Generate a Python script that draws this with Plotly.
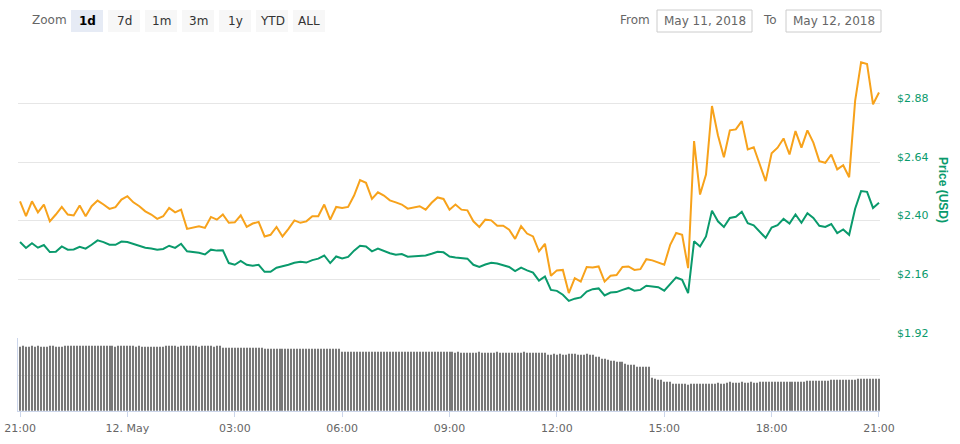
import pandas as pd
import plotly.graph_objects as go

# ---------------- data ----------------
START = "2018-05-11 21:00"

price_usd = [
    2.312, 2.288, 2.307, 2.289, 2.300, 2.271, 2.272, 2.294, 2.281, 2.282,
    2.293, 2.285, 2.301, 2.319, 2.312, 2.301, 2.301, 2.314, 2.312, 2.304,
    2.296, 2.289, 2.286, 2.281, 2.284, 2.297, 2.288, 2.305, 2.274, 2.272,
    2.268, 2.261, 2.281, 2.277, 2.278, 2.226, 2.219,
    2.235, 2.219, 2.215, 2.219, 2.190, 2.190, 2.207, 2.212, 2.219, 2.227,
    2.231, 2.228, 2.238, 2.244, 2.257, 2.226, 2.253, 2.245, 2.251, 2.277,
    2.297, 2.294, 2.274, 2.285, 2.274, 2.266, 2.260, 2.263, 2.252, 2.253,
    2.256, 2.257, 2.264, 2.272, 2.270, 2.253,
    2.249, 2.247, 2.244, 2.219, 2.210, 2.220, 2.227, 2.224, 2.218, 2.210,
    2.193, 2.207, 2.196, 2.187, 2.154, 2.171, 2.116, 2.112, 2.096, 2.071,
    2.080, 2.085, 2.109, 2.119, 2.122, 2.093, 2.105, 2.107, 2.116, 2.124,
    2.113, 2.116, 2.133, 2.130, 2.127, 2.113,
    2.140, 2.167, 2.157, 2.103, 2.315, 2.294, 2.335, 2.441, 2.397, 2.374,
    2.411, 2.416, 2.436, 2.389, 2.381, 2.356, 2.329, 2.372, 2.381, 2.407,
    2.388, 2.425, 2.391, 2.430, 2.411, 2.379, 2.374, 2.386, 2.349, 2.364,
    2.342, 2.449, 2.521, 2.518, 2.452, 2.473,
]

# second (orange) series, read against the same price grid
price_orange = [
    2.479, 2.418, 2.479, 2.434, 2.466, 2.397, 2.425, 2.456, 2.425, 2.421,
    2.462, 2.418, 2.459, 2.482, 2.466, 2.448, 2.455, 2.486, 2.500, 2.475,
    2.459, 2.438, 2.425, 2.407, 2.418, 2.452, 2.434, 2.445, 2.366, 2.370,
    2.377, 2.370, 2.415, 2.404, 2.425, 2.391, 2.393,
    2.422, 2.374, 2.388, 2.395, 2.335, 2.342, 2.374, 2.335, 2.366, 2.401,
    2.391, 2.397, 2.418, 2.418, 2.466, 2.404, 2.456, 2.452, 2.456, 2.503,
    2.566, 2.555, 2.489, 2.516, 2.503, 2.483, 2.475, 2.466, 2.449, 2.455,
    2.459, 2.445, 2.473, 2.495, 2.489, 2.445,
    2.466, 2.445, 2.442, 2.397, 2.374, 2.404, 2.401, 2.379, 2.379, 2.363,
    2.325, 2.377, 2.347, 2.335, 2.274, 2.305, 2.174, 2.196, 2.198, 2.103,
    2.164, 2.150, 2.210, 2.208, 2.212, 2.150, 2.174, 2.177, 2.210, 2.212,
    2.198, 2.201, 2.242, 2.237, 2.228, 2.219,
    2.301, 2.349, 2.342, 2.205, 2.726, 2.507, 2.589, 2.870, 2.750, 2.660,
    2.770, 2.774, 2.808, 2.692, 2.701, 2.633, 2.562, 2.676, 2.699, 2.737,
    2.671, 2.767, 2.699, 2.770, 2.720, 2.644, 2.637, 2.671, 2.610, 2.627,
    2.578, 2.891, 3.049, 3.042, 2.877, 2.925,
]

# volume (millions, 5-minute bars)
volume = [
    90.0, 90.3, 89.6, 89.9, 90.1, 89.8, 90.2, 89.9, 90.0, 89.7, 90.4, 90.1, 89.8, 90.0, 89.6, 90.2,
    90.8, 90.6, 91.0, 90.7, 90.9, 91.2, 90.8, 90.6, 90.9, 90.7,
    90.3, 90.2, 90.5, 90.1, 90.3, 90.4, 90.0, 90.2, 90.3, 90.1, 90.4, 90.2, 90.3, 90.0, 90.2,
    89.9, 89.7, 90.0, 89.8, 89.9, 89.6, 89.9, 89.8,
    90.3, 90.1, 90.4, 90.2, 90.0, 90.3, 90.2, 90.4, 90.1, 90.3, 90.2, 90.0, 90.3, 90.1, 90.2, 90.4, 90.0, 90.2, 90.1,
    87.7, 87.9, 87.5, 87.8, 87.6, 87.9, 87.7, 87.4, 87.8, 87.6, 87.7, 87.5, 87.8, 87.6,
    86.3, 86.0, 86.5, 86.2, 86.4, 85.9, 86.3, 86.1, 86.5, 86.2, 86.0, 86.4, 86.3, 86.1, 86.5, 86.2,
    86.4, 86.0, 86.3, 86.2, 86.5, 86.1, 86.3, 86.4, 86.0, 86.2,
    82.3, 81.8, 82.1, 82.0, 81.7, 82.2, 82.0, 81.9, 82.3, 82.1, 81.8, 82.0, 82.2, 81.9, 82.1, 82.0,
    81.8, 82.2, 82.1, 81.9, 82.0, 82.3, 81.8, 82.1, 82.0, 81.9, 82.2, 82.0, 81.8, 82.1, 82.3, 82.0,
    81.9, 82.1, 82.0, 82.2, 81.8, 82.0,
    81.5, 81.7, 81.4, 81.6, 81.5, 81.3, 81.6, 81.5, 81.7, 81.4, 81.5, 81.6, 81.3, 81.5, 81.7, 81.5,
    81.4, 81.6, 81.5, 81.3, 81.6, 81.5, 81.4, 81.7, 81.5, 81.6, 81.4, 81.5, 81.3, 81.6, 81.5,
    78.8, 78.6, 79.0, 78.7, 78.9, 78.8, 78.5, 78.9, 79.2, 79.0, 78.7, 78.8, 78.6, 78.9, 78.7, 78.8,
    76.0, 75.5, 73.2, 72.8, 70.8, 70.5, 70.2, 68.5, 68.2, 68.0, 65.3, 65.0, 64.8, 64.6,
    61.5, 61.3, 61.2, 61.4, 61.0,
    46.8, 44.5, 44.0, 43.8, 40.7, 40.5, 40.7,
    37.5, 37.3, 37.6, 37.4, 37.5, 37.2, 37.5, 37.6, 37.3, 37.5,
    38.5, 38.3, 38.6, 38.4, 38.5, 38.7, 38.4, 38.5,
    39.9, 40.1, 39.8, 40.0, 39.9, 40.2, 39.8, 39.9, 40.1, 39.9, 40.0,
    40.3, 40.1, 40.4, 40.2, 40.3, 40.5, 40.2, 40.3, 40.1, 40.4, 40.3, 40.2, 40.5, 40.3, 40.1, 40.3,
    41.7, 41.9, 41.6, 41.8, 41.7, 41.5, 41.8, 41.7,
    43.1, 43.3, 43.0, 43.2, 43.1, 43.4, 43.0, 43.2, 43.1,
    44.4, 44.6, 44.3, 44.5, 44.4, 44.2, 44.5, 44.4,
]

x_tick_times = ["2018-05-11 21:00", "2018-05-12 00:00", "2018-05-12 03:00",
                "2018-05-12 06:00", "2018-05-12 09:00", "2018-05-12 12:00",
                "2018-05-12 15:00", "2018-05-12 18:00", "2018-05-12 21:00"]
x_tick_labels = ["21:00", "12. May", "03:00", "06:00", "09:00",
                 "12:00", "15:00", "18:00", "21:00"]
y_tick_values = [1.92, 2.16, 2.40, 2.64, 2.88, 3.12]
y_tick_labels = ["$1.92", "$2.16", "$2.40", "$2.64", "$2.88", ""]

zoom_buttons = ["1d", "7d", "1m", "3m", "1y", "YTD", "ALL"]
date_from = "May 11, 2018"
date_to = "May 12, 2018"

# ---------------- figure ----------------
price_times = pd.date_range(START, periods=len(price_usd), freq="10min")
vol_times = pd.date_range(START, periods=len(volume), freq="5min")

W, H = 960, 444
L, R, T, B = 18, 80, 45, 33
PW, PH = W - L - R, H - T - B


def px(x):
    return (x - L) / PW


def py(y):
    return (H - B - y) / PH


FONT = "DejaVu Sans"
GREEN = "#0a9a6c"
ORANGE = "#f7a21b"
BAR = "#787878"
split = py(337.7)

fig = go.Figure()
fig.add_trace(go.Bar(x=vol_times, y=volume, yaxis="y2",
                     marker=dict(color=BAR, line=dict(width=0.02, color=BAR)),
                     width=201200, hoverinfo="skip"))
fig.add_trace(go.Scatter(x=price_times, y=price_orange, mode="lines",
                         line=dict(color=ORANGE, width=2)))
fig.add_trace(go.Scatter(x=price_times, y=price_usd, mode="lines",
                         line=dict(color=GREEN, width=2)))

t0 = pd.Timestamp(START)
fig.update_layout(
    width=W, height=H, autosize=False,
    margin=dict(l=L, r=R, t=T, b=B, pad=0, autoexpand=False),
    paper_bgcolor="white", plot_bgcolor="white",
    showlegend=False, bargap=0,
    font=dict(family=FONT, size=11, color="#666666"),
    xaxis=dict(
        type="date", automargin=False,
        range=[t0 - pd.Timedelta(minutes=3.4), t0 + pd.Timedelta(minutes=1441.7)],
        tickvals=x_tick_times, ticktext=x_tick_labels,
        ticks="outside", ticklen=5, tickcolor="#ccd6eb",
        showline=True, linecolor="#ccd6eb", linewidth=1,
        showgrid=False, zeroline=False, anchor="y2",
        ticklabelstandoff=2,
        tickfont=dict(family=FONT, size=11, color="#666666"),
    ),
    yaxis=dict(
        domain=[split, 1], range=[1.92, 3.12], side="right", anchor="x",
        automargin=False,
        tickvals=y_tick_values, ticktext=y_tick_labels,
        showgrid=True, gridcolor="#e6e6e6", gridwidth=1,
        zeroline=False, showline=False, ticks="",
        tickfont=dict(family=FONT, size=11, color=GREEN),
        ticklabelstandoff=16, ticklabelshift=-5,
    ),
    yaxis2=dict(
        domain=[0, split], range=[0, 101.8], side="left", anchor="x",
        automargin=False,
        tickvals=[50], showticklabels=False,
        showgrid=True, gridcolor="#e6e6e6", gridwidth=1,
        zeroline=False, showline=True, linecolor="#ccd6eb", ticks="",
    ),
)

shapes = []
annotations = []

# Price (USD) axis title
annotations.append(dict(x=px(943), y=py(190), xref="paper", yref="paper",
                        text="<b>Price (USD)</b>", textangle=90, showarrow=False,
                        xanchor="center", yanchor="middle",
                        font=dict(family="Liberation Sans", size=12, color=GREEN)))

# range selector
annotations.append(dict(x=px(49), y=py(20), xref="paper", yref="paper", text="Zoom",
                        showarrow=False, xanchor="center", yanchor="middle",
                        font=dict(family=FONT, size=12, color="#666666")))
btn_x = [(71, 103), (108, 140), (145, 177), (182, 214), (219, 251), (256, 288), (293, 325)]
for i, (label, (x0, x1)) in enumerate(zip(zoom_buttons, btn_x)):
    sel = i == 0
    shapes.append(dict(type="rect", xref="paper", yref="paper",
                       x0=px(x0), x1=px(x1), y0=py(32), y1=py(10),
                       fillcolor="#e6ebf5" if sel else "#f7f7f7", line=dict(width=0), layer="below"))
    annotations.append(dict(x=px((x0 + x1) / 2), y=py(21), xref="paper", yref="paper",
                            text=f"<b>{label}</b>" if sel else label, showarrow=False,
                            xanchor="center", yanchor="middle",
                            font=dict(family=FONT, size=12, color="#000000" if sel else "#333333")))

# date inputs
annotations.append(dict(x=px(635), y=py(20), xref="paper", yref="paper", text="From",
                        showarrow=False, xanchor="center", yanchor="middle",
                        font=dict(family=FONT, size=12, color="#666666")))
annotations.append(dict(x=px(770), y=py(20), xref="paper", yref="paper", text="To",
                        showarrow=False, xanchor="center", yanchor="middle",
                        font=dict(family=FONT, size=12, color="#666666")))
for (x0, x1), txt in [((657, 752), date_from), ((786, 881), date_to)]:
    shapes.append(dict(type="rect", xref="paper", yref="paper",
                       x0=px(x0), x1=px(x1), y0=py(32), y1=py(10),
                       fillcolor="white", line=dict(color="#cccccc", width=1)))
    annotations.append(dict(x=px((x0 + x1) / 2), y=py(21), xref="paper", yref="paper",
                            text=txt, showarrow=False, xanchor="center", yanchor="middle",
                            font=dict(family=FONT, size=12, color="#666666")))

fig.update_layout(shapes=shapes, annotations=annotations)
fig.write_html("out.html", config={"displayModeBar": False})
